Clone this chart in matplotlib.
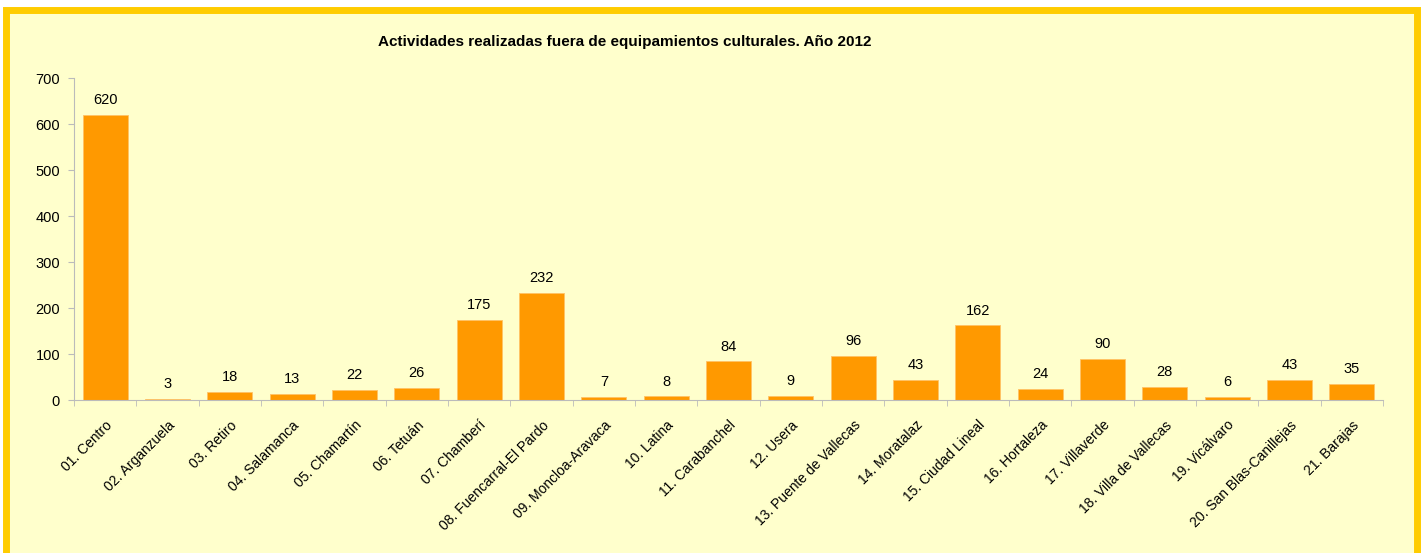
import matplotlib.pyplot as plt
from matplotlib.patches import Rectangle
import numpy as np

plt.rcParams['font.family'] = ['Liberation Sans', 'DejaVu Sans']

distritos = ['01. Centro', '02. Arganzuela', '03. Retiro', '04. Salamanca', '05. Chamartín',
             '06. Tetuán', '07. Chamberí', '08. Fuencarral-El Pardo', '09. Moncloa-Aravaca',
             '10. Latina', '11. Carabanchel', '12. Usera', '13. Puente de Vallecas',
             '14. Moratalaz', '15. Ciudad Lineal', '16. Hortaleza', '17. Villaverde',
             '18. Villa de Vallecas', '19. Vicálvaro', '20. San Blas-Canillejas', '21. Barajas']
actividades = [620, 3, 18, 13, 22, 26, 175, 232, 7, 8, 84, 9, 96, 43, 162, 24, 90, 28, 6, 43, 35]
titulo = 'Actividades realizadas fuera de equipamientos culturales. Año 2012'

fig = plt.figure(figsize=(14.27, 5.53), dpi=100)
fig.patch.set_facecolor('white')

# marco amarillo
fig.patches.append(Rectangle((6 / 1427, -0.05), 1411 / 1427, 1 - 10 / 553 + 0.05,
                             transform=fig.transFigure, facecolor='#FFFFCC',
                             edgecolor='#FFCC00', linewidth=5, zorder=-1))

ax = fig.add_axes([74 / 1427, 1 - 400 / 553, (1383 - 74) / 1427, (400 - 78) / 553])
ax.set_facecolor('none')

x = np.arange(len(distritos))
ax.bar(x, actividades, width=0.72, color='#FF9900', edgecolor='#FFC266', linewidth=0.6)
for xi, v in zip(x, actividades):
    ax.text(xi, v + 17, str(v), ha='center', va='bottom', fontsize=10.5)

ax.set_xlim(-0.5, len(distritos) - 0.5)
ax.set_ylim(0, 700)
ax.set_yticks(range(0, 701, 100))
ax.set_xticks(x)
ax.set_xticklabels(distritos, rotation=45, ha='right', rotation_mode='anchor', fontsize=10)
ax.set_xticks(np.arange(-0.5, len(distritos)), minor=True)
ax.tick_params(axis='x', which='major', length=0, pad=13)
ax.tick_params(axis='x', which='minor', length=4, color='#BBBBBB')
ax.tick_params(axis='y', length=4, color='#BBBBBB', labelsize=10.5, pad=6)
for s in ['top', 'right']:
    ax.spines[s].set_visible(False)
for s in ['left', 'bottom']:
    ax.spines[s].set_color('#BBBBBB')

fig.text(625 / 1427, 1 - 42 / 553, titulo, ha='center', va='center', fontsize=11, fontweight='bold')

fig.savefig('out.png', dpi=100, facecolor=fig.get_facecolor())
